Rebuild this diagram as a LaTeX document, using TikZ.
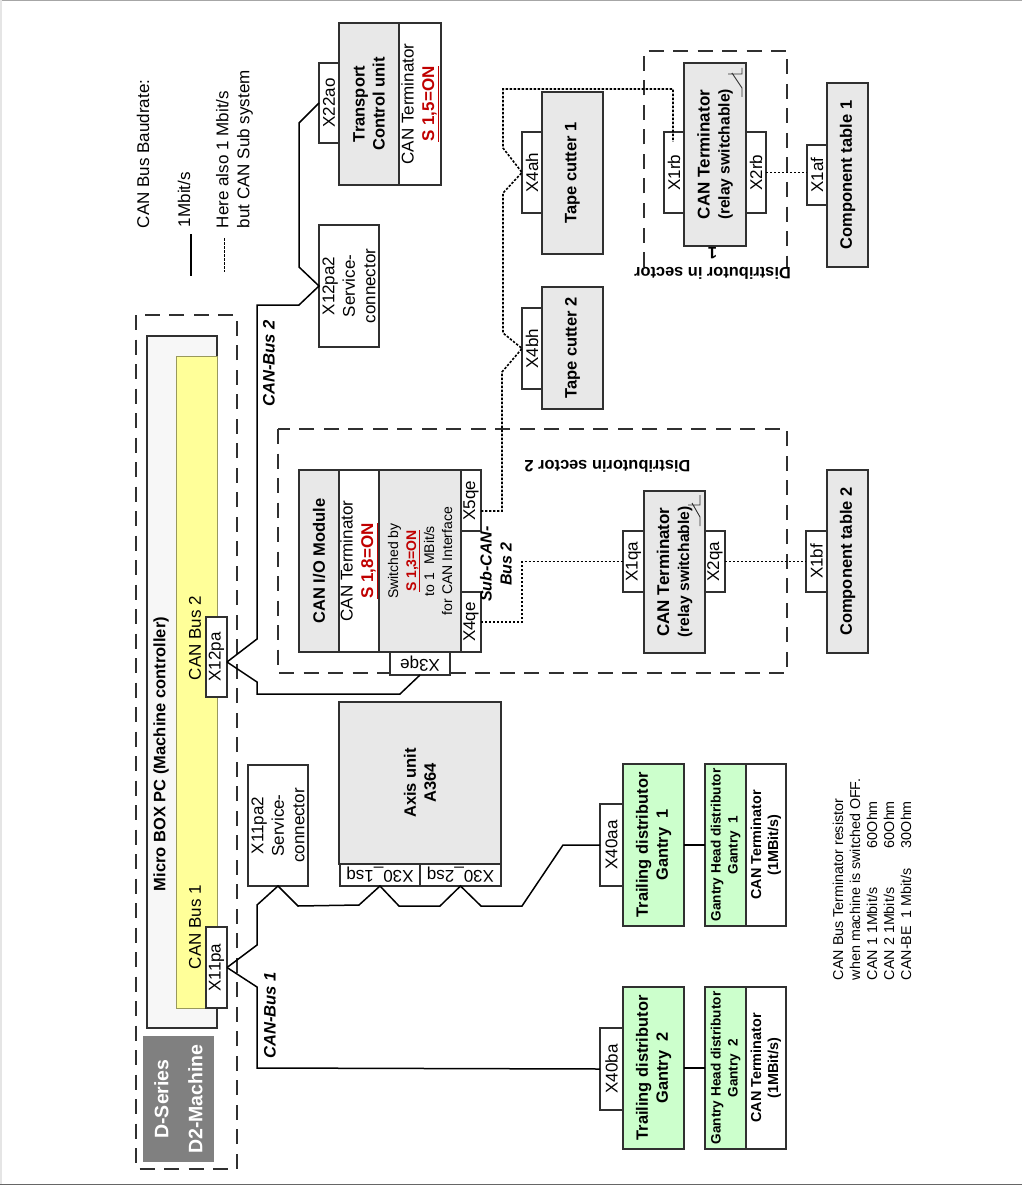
\documentclass[tikz,border=0pt]{standalone}
\usepackage{fontspec}
\setmainfont{Liberation Sans}
\definecolor{boxline}{HTML}{303030}
\definecolor{grayfill}{HTML}{E8E8E8}
\definecolor{greenfill}{HTML}{CCFFCC}
\definecolor{yellowfill}{HTML}{FFFF99}
\definecolor{redtext}{HTML}{C00000}
\newcommand{\boxV}[7]{%
  \pgfmathsetmacro{\bxw}{#5-#3}\pgfmathsetmacro{\bxh}{#4-#2}%
  \node[basebox,rotate=90,minimum width=\bxw pt,minimum height=\bxh pt,#6] (#1) at ({(#2+#4)/2},{(#3+#5)/2}) {#7};}
\newcommand{\boxH}[7]{%
  \pgfmathsetmacro{\bxw}{#4-#2}\pgfmathsetmacro{\bxh}{#5-#3}%
  \node[basebox,rotate=180,minimum width=\bxw pt,minimum height=\bxh pt,#6] (#1) at ({(#2+#4)/2},{(#3+#5)/2}) {#7};}
\newcommand{\redon}[1]{\textcolor{redtext}{\underline{#1}}}
\newcommand{\relaysize}{\fontsize{15.6}{20}\selectfont}
\tikzset{
  basebox/.style={draw=boxline,line width=1.1pt,inner sep=0pt,outer sep=0pt,align=center},
  plain/.style={fill=white,font=\fontsize{17}{20.5}\selectfont},
  grayb/.style={fill=grayfill,font=\fontsize{16.5}{20}\selectfont\bfseries},
  relayb/.style={fill=grayfill,font=\fontsize{17}{20}\selectfont\bfseries},
  greenb/.style={fill=greenfill,font=\fontsize{16.4}{20}\selectfont\bfseries},
  greens/.style={fill=greenfill,font=\fontsize{13.6}{17}\selectfont\bfseries},
  whites/.style={fill=white,font=\fontsize{14.4}{17}\selectfont\bfseries},
  label/.style={inner sep=0pt,outer sep=0pt,align=center},
  canbus/.style={label,font=\fontsize{16.6}{20}\selectfont\bfseries\itshape},
  legend/.style={label,align=left,font=\fontsize{17}{21}\selectfont},
  sector/.style={draw=boxline,line width=1.1pt,dash pattern=on 15pt off 9.5pt},
  canline/.style={draw=black,line width=1.5pt,line join=miter},
  subline/.style={draw=black,line width=1.6pt,dash pattern=on 2.4pt off 1.6pt},
  switchline/.style={draw=boxline,line width=0.9pt},
}
\begin{document}
\begin{tikzpicture}[x=1pt,y=-1pt]
\useasboundingbox (0,0) rectangle (1022,1185);
\fill[black!35] (0,0) rectangle (1022,1);
\fill[black!10] (0,0) rectangle (2,1185);
\fill[black!60] (0,1183.5) rectangle (1022,1185);

% legend
\node[legend,rotate=90,anchor=west] (lgTitle) at (143,228) {CAN Bus Baudrate:};
\node[legend,rotate=90,anchor=west] (lgOne) at (184,227) {1Mbit/s};
\node[legend,rotate=90,anchor=west] (lgSub) at (234.5,228) {Here also 1 Mbit/s\\but CAN Sub system};
\coordinate (lgS1) at (191,234); \coordinate (lgS2) at (191,276);
\coordinate (lgD1) at (224,238); \coordinate (lgD2) at (224,272);
\draw[black,line width=1.5pt] (lgS1) -- (lgS2);
\draw[black,line width=0.9pt,dash pattern=on 2.5pt off 1.5pt] (lgD1) -- (lgD2);

% machine
\boxV{outer}{136}{315}{237}{1169}{sector,fill=none}{}
\boxV{micro}{147}{336}{217}{1028}{fill=black!3}{}
\boxV{yellow}{176}{356}{217}{1008}{fill=yellowfill,draw=yellowfill!60!black,line width=0.8pt}{}
\draw[boxline,line width=1.1pt] (217,336) -- (217,356);
\node[label,rotate=90,font=\fontsize{16.5}{20}\selectfont\bfseries] (microT) at (161,754) {Micro BOX PC (Machine controller)};
\node[label,rotate=90,font=\fontsize{17}{20}\selectfont] (bus1T) at (195,927) {CAN Bus 1};
\node[label,rotate=90,font=\fontsize{17}{20}\selectfont] (bus2T) at (195,638) {CAN Bus 2};
\boxV{dseries}{143}{1036}{214}{1162}{fill=black!50,draw=none,text=white,font=\fontsize{19.5}{34}\selectfont\bfseries}{D-Series\\D2-Machine}
\boxV{X11pa}{206}{927}{227}{1008}{plain}{X11pa}
\boxV{X12pa}{206}{617}{227}{697}{plain}{X12pa}

% sector boxes
\boxV{sectorB}{278}{429}{787}{673}{sector,fill=none}{}
\draw[sector] (644,267) -- (644,51) -- (787,51) -- (787,267);
\node[label,rotate=180,font=\fontsize{16.4}{20}\selectfont\bfseries] (secAT) at (712.5,263) {Distributor in sector\\1};
\node[label,rotate=180,font=\fontsize{16.4}{20}\selectfont\bfseries] (secBT) at (607.5,466) {Distributorin sector 2};

% transport, service 2
\boxV{X22ao}{319}{63}{339}{143}{plain}{X22ao}
\boxV{transport}{339}{23}{399}{185}{grayb}{Transport\\Control unit}
\boxV{transportT}{399}{23}{441}{185}{plain}{CAN Terminator\\\bfseries\redon{S 1,5=ON}}
\boxV{X12svc}{319}{225}{379}{347}{plain}{X12pa2\\Service-\\connector}

% CAN IO
\boxV{iomod}{299}{470}{339}{652}{grayb}{CAN I/O Module}
\boxV{ioterm}{339}{470}{379}{652}{plain}{CAN Terminator\\\bfseries\redon{S 1,8=ON}}
\boxV{iosw}{379}{470}{461}{652}{fill=grayfill,font=\fontsize{14}{18}\selectfont}{Switched by\\{\bfseries\redon{S 1,3=ON}}\\to 1~~MBit/s\\for CAN Interface}
\boxV{X5qe}{461}{470}{481}{531}{plain}{X5qe}
\boxV{X4qe}{461}{592}{481}{652}{plain}{X4qe}
\boxH{X3qe}{390}{652}{450}{675}{plain}{X3qe}

% axis, service 1
\boxV{axis}{339}{702}{501}{864}{grayb}{Axis unit\\A364}
\boxH{X30a}{340}{864}{420}{886}{plain}{X30\_1sq}
\boxH{X30b}{420}{864}{501}{886}{plain}{X30\_2sq}
\boxV{X11svc}{248}{765}{308}{886}{plain}{X11pa2\\Service-\\connector}

% gantry
\boxV{trail1}{623}{764}{684}{926}{greenb}{Trailing distributor\\Gantry~~1}
\boxV{X40aa}{600}{804}{623}{886}{plain}{X40aa}
\boxV{head1}{705}{764}{746}{926}{greens}{Gantry Head distributor\\Gantry~~1}
\boxV{term1}{746}{764}{786}{926}{whites}{CAN Terminator\\(1MBit/s)}
\boxV{trail2}{623}{987}{684}{1149}{greenb}{Trailing distributor\\Gantry~~2}
\boxV{X40ba}{600}{1028}{623}{1110}{plain}{X40ba}
\boxV{head2}{705}{987}{746}{1149}{greens}{Gantry Head distributor\\Gantry~~2}
\boxV{term2}{746}{987}{786}{1149}{whites}{CAN Terminator\\(1MBit/s)}

% tape cutters
\boxV{tape1}{542}{92}{603}{254}{grayb}{Tape cutter 1}
\boxV{X4ah}{522}{132}{542}{213}{plain}{X4ah}
\boxV{tape2}{542}{287}{603}{409}{grayb}{Tape cutter 2}
\boxV{X4bh}{522}{308}{542}{389}{plain}{X4bh}

% distributors
\boxV{X1rb}{664}{132}{684}{213}{plain}{X1rb}
\boxV{X2rb}{746}{132}{766}{213}{plain}{X2rb}
\boxV{termA}{684}{63}{746}{246}{relayb}{CAN Terminator\\{\relaysize(relay switchable)}}
\boxV{tableA}{827}{83}{868}{267}{grayb}{Component table 1}
\boxV{X1af}{807}{145}{827}{205}{plain}{X1af}
\boxV{X1qa}{623}{531}{644}{592}{plain}{X1qa}
\boxV{X2qa}{705}{531}{725}{592}{plain}{X2qa}
\boxV{termB}{644}{491}{705}{653}{relayb}{CAN Terminator\\{\relaysize(relay switchable)}}
\boxV{tableB}{827}{470}{868}{653}{grayb}{Component table 2}
\boxV{X1bf}{806}{531}{827}{592}{plain}{X1bf}

% relay symbols
\draw[switchline] (742,68) -- (742,74) -- (728,74) (732,73) -- (742,88) -- (742,97);
\draw[switchline] (700,495) -- (700,505) -- (688,505) (692,503) -- (700,517) -- (700,526);

% labels
\node[canbus,rotate=90] (busAL) at (270,1015.5) {CAN-Bus 1};
\node[canbus,rotate=90] (busBL) at (269,363.5) {CAN-Bus 2};
\node[label,rotate=90,font=\fontsize{16}{20}\selectfont\bfseries\itshape] (subL) at (496,564) {Sub-CAN-\\Bus 2};
\node[label,rotate=90,anchor=west,align=left,font=\fontsize{14.3}{17}\selectfont] (resist) at (872,980) {CAN Bus Terminator resistor\\when machine is switched OFF.\\\makebox[132pt][l]{CAN 1 1Mbit/s}60Ohm\\\makebox[132pt][l]{CAN 2 1Mbit/s}60Ohm\\\makebox[132pt][l]{CAN-BE~~1 Mbit/s}30Ohm};

% CAN bus 1
\draw[canline] (X11pa.south) -- (257,945) -- (257,905) -- (X11svc.west) -- (298,906) -- (359,905)
  -- (X30a.north) -- (399,906) -- (440,906) -- (X30b.north) -- (481,906) -- (522,906) -- (563,845) -- (X40aa.north);
\draw[canline] (X11pa.south) -- (257,987) -- (257,1068) -- (X40ba.north);
\draw[canline] (trail1.south) -- (head1.north);
\draw[canline] (trail2.south) -- (head2.north);

% CAN bus 2
\draw[canline] ([yshift=-5pt]X12pa.south) -- (257,639) -- (257,305) -- (299,305) -- (X12svc.north)
  -- (299,267) -- (299,123) -- (X22ao.north);
\draw[canline] ([yshift=-5pt]X12pa.south) -- (257,682) -- (257,694) -- (400,694) -- (X3qe.north);

% sub CAN
\coordinate (rbEnd) at (673,142);
\draw[subline] ([yshift=-10.5pt]X5qe.south) -- (502,511) -- (502,372) -- (X4bh.north) -- (503,333)
  -- (503,193) -- (X4ah.north) -- (503,148) -- (503,89) -- (673,89) -- (rbEnd);
\draw[subline] (X4qe.south) -- (522,622) -- (522,561.5) -- (X1qa.north);
\draw[subline] (X2qa.south) -- (X1bf.north);
\draw[subline] (X2rb.south) -- ([yshift=2.5pt]X1af.north);
\end{tikzpicture}
\end{document}
